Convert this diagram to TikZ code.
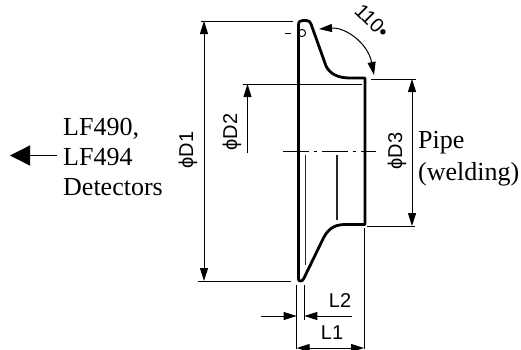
\documentclass[tikz,border=0pt]{standalone}
\usepackage{fontspec}
\setmainfont{Liberation Serif}
\newfontfamily\dimfont{Liberation Sans}
\usetikzlibrary{arrows.meta}
\tikzset{
  body/.style={line width=2.8pt,line cap=round,line join=round},
  thin line/.style={line width=1pt},
  inner line/.style={line width=1.2pt,black!85},
  dimarrow/.style={line width=1pt,{Triangle[length=13pt,width=8pt]}-{Triangle[length=13pt,width=8pt]}},
  onearrow/.style={line width=1pt,-{Triangle[length=13pt,width=8pt]}},
  center line/.style={line width=1pt,dash pattern=on 26pt off 5pt on 3pt off 5pt},
  label/.style={font=\fontsize{26}{30}\selectfont,inner sep=0pt,anchor=base west},
  dimlabel/.style={font=\dimfont\fontsize{20}{22}\selectfont,inner sep=0pt},
}
\begin{document}
\begin{tikzpicture}[x=1pt,y=-1pt]
\useasboundingbox (0,0) rectangle (521,349);
% flange outline
\draw[body] (298.5,279) -- (298.5,25)
  .. controls (298.5,21.5) and (300,20.5) .. (303,20.5)
  -- (306,20.5) .. controls (309,20.5) and (310,21.5) .. (311,24)
  -- (326,66) .. controls (330,74) and (338,78) .. (350,78) -- (365,78) -- (365,224.5) -- (345,224.5)
  .. controls (333,224.5) and (327,230) .. (322,241) -- (304,278)
  .. controls (302.5,282) and (298.5,282) .. (298.5,279) -- cycle;
\draw[thin line] (302,33) circle[radius=3.6pt];
\draw[thin line] (285,33) -- (291,33);
% inner lines
\coordinate (cL) at (283,151);
\coordinate (cR) at (376,151);
\draw[center line] (cL) -- (cR);
\draw[inner line] (305.7,155) -- (305.7,265);
\draw[inner line] (337,155) -- (337,220);
% extension lines
\draw[thin line] (201,21) -- (293,21);
\draw[thin line] (198,281) -- (291,281);
\draw[thin line] (243,84) -- (362,84);
\draw[thin line] (371,79) -- (416,79);
\draw[thin line] (367,226) -- (415,226);
\draw[thin line] (296.7,285) -- (296.7,349);
\draw[thin line] (304.3,285) -- (304.3,320);
\draw[thin line] (364,228) -- (364,349);
% dimensions
\coordinate (d1a) at (204,21); \coordinate (d1b) at (204,281);
\draw[dimarrow] (d1a) -- (d1b);
\coordinate (d2a) at (247.5,84); \coordinate (d2b) at (247.5,153);
\draw[line width=1pt,{Triangle[length=13pt,width=8pt]}-] (d2a) -- (d2b);
\coordinate (d3a) at (412,79); \coordinate (d3b) at (412,226);
\draw[dimarrow] (d3a) -- (d3b);
\coordinate (l2a) at (261,316); \coordinate (l2b) at (296.7,316);
\coordinate (l2c) at (352,316); \coordinate (l2d) at (304.3,316);
\draw[onearrow] (l2a) -- (l2b);
\draw[onearrow] (l2c) -- (l2d);
\coordinate (l1a) at (296.7,348); \coordinate (l1b) at (364,348);
\draw[dimarrow] (l1a) -- (l1b);
% angle
\coordinate (ang1) at (319,29); \coordinate (ang2) at (374,75);
\draw[dimarrow] (ang1) .. controls (345,27) and (368,43) .. (ang2);
% labels
\node[dimlabel,rotate=90] (D1) at (188,150) {ϕD1};
\node[dimlabel,rotate=90] (D2) at (232,132) {ϕD2};
\node[dimlabel,rotate=90] (D3) at (397,151) {ϕD3};
\node[dimlabel] (L2) at (340,301) {L2};
\node[dimlabel] (L1) at (332,333) {L1};
\node[dimlabel,rotate=-45] (ang) at (372,21) {110•};
\node[label] (t1) at (63,135) {LF490,};
\node[label] (t2) at (63,165) {LF494};
\node[label] (t3) at (63,195) {Detectors};
\node[label] (p1) at (418,148) {Pipe};
\node[label] (p2) at (418,180) {(welding)};
% detector arrow
\coordinate (dtip) at (10,155.5);
\draw[line width=1.3pt,-{Triangle[length=20pt,width=20pt]}] (t2.west |- dtip) ++(-6,0) -- (dtip);
\end{tikzpicture}
\end{document}
